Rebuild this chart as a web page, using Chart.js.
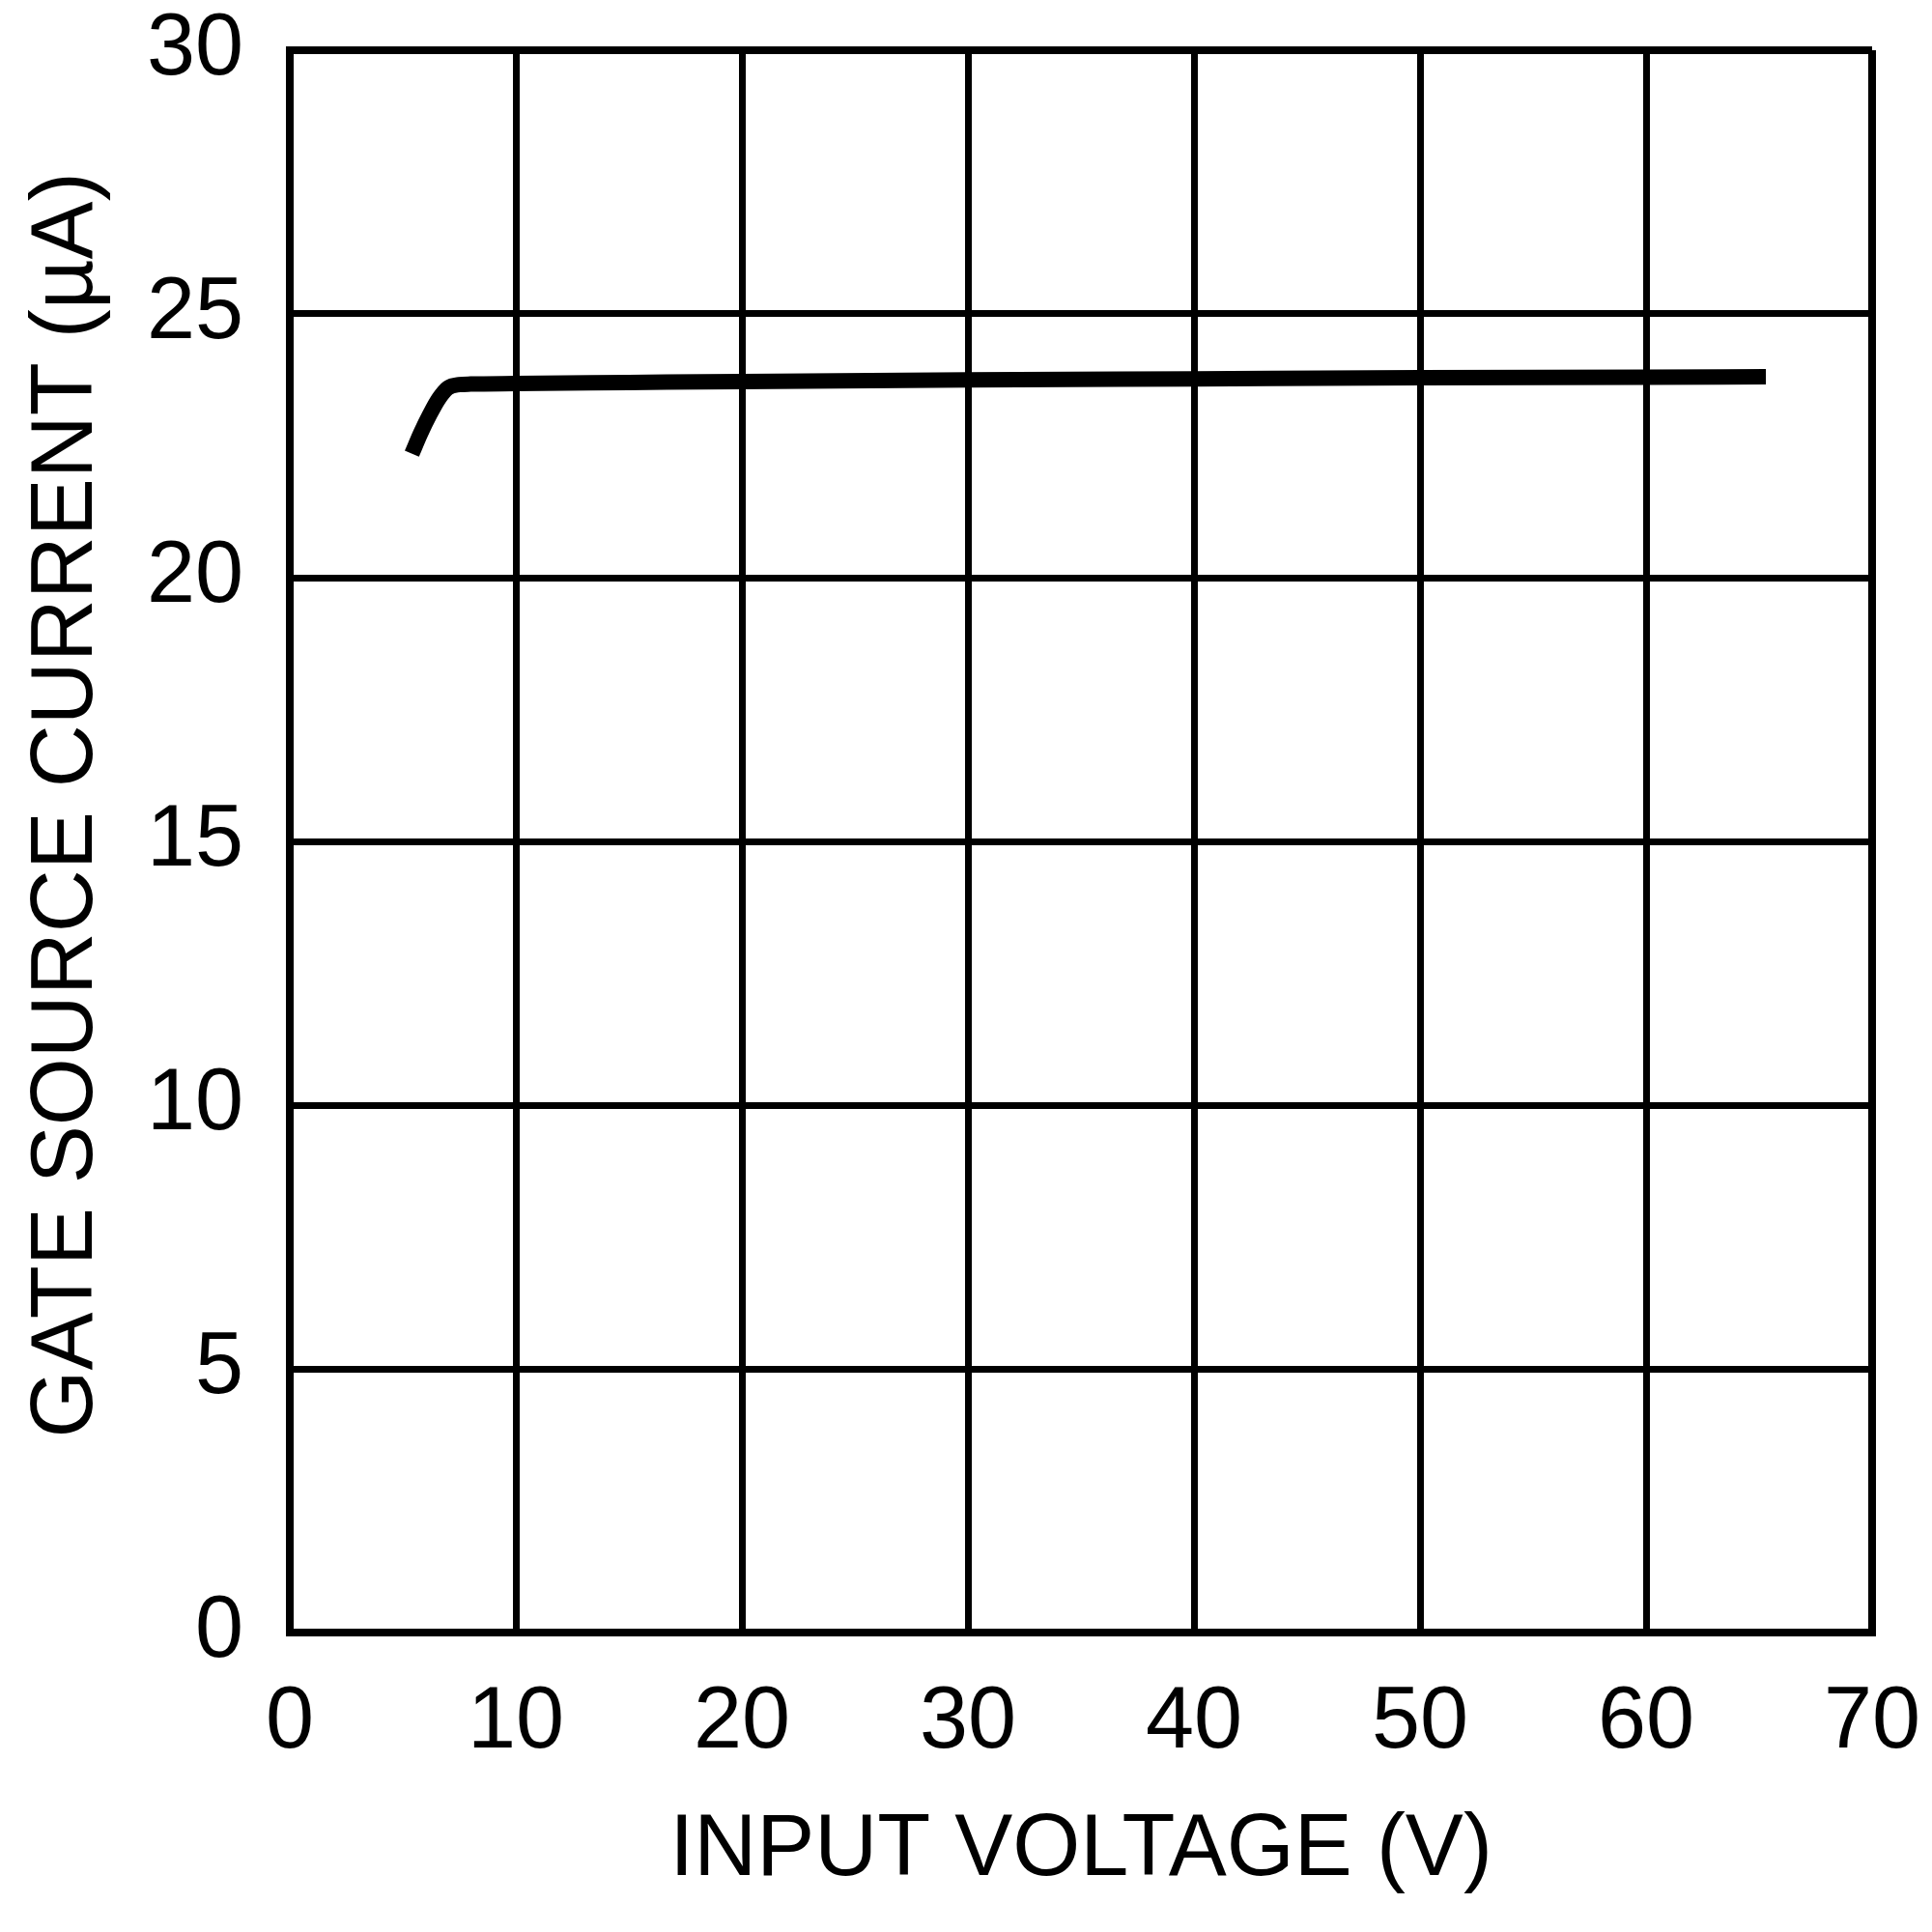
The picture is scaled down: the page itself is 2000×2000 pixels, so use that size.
<!DOCTYPE html>
<html>
<head>
<meta charset="utf-8">
<script src="https://cdn.jsdelivr.net/npm/chart.js@4"></script>
<style>
    html, body { margin: 0; padding: 0; background: #fff; }
    #wrap { width: 2000px; height: 2000px; }
</style>
</head>
<body>
<div id="wrap"><canvas id="chart" width="2000" height="2000"></canvas></div>
<script>
// values
var inputVoltage = [5.4, 5.8, 6.2, 6.6, 7.0, 7.5, 8, 10, 15, 20, 30, 40, 50, 60, 65.3];
var gateCurrent = [22.35, 22.75, 23.1, 23.4, 23.6, 23.66, 23.67, 23.68, 23.7, 23.72, 23.75, 23.77, 23.79, 23.8, 23.81];
var xTicks = [0, 10, 20, 30, 40, 50, 60, 70];
var yTicks = [0, 5, 10, 15, 20, 25, 30];

var points = inputVoltage.map(function (v, i) {
    return { x: v, y: gateCurrent[i] };
});

var fontFamily = '"Liberation Sans", Arial, sans-serif';

var ctx = document.getElementById('chart').getContext('2d');
new Chart(ctx, {
    type: 'line',
    data: {
        datasets: [{
            data: points,
            borderColor: '#000',
            borderWidth: 16,
            pointRadius: 0,
            fill: false,
            cubicInterpolationMode: 'monotone',
            borderCapStyle: 'butt',
            borderJoinStyle: 'round'
        }]
    },
    options: {
        responsive: false,
        animation: false,
        layout: { padding: { top: 52, right: 62, left: 0, bottom: 0 } },
        plugins: { legend: { display: false }, tooltip: { enabled: false } },
        scales: {
            x: {
                type: 'linear',
                min: 0,
                max: 70,
                afterBuildTicks: function (scale) {
                    scale.ticks = xTicks.map(function (v) { return { value: v }; });
                },
                afterFit: function (scale) {
                    scale.height = 310;
                    scale.paddingLeft = 0;
                    scale.paddingRight = 0;
                },
                grid: {
                    color: '#000',
                    lineWidth: function (c) { return (c.tick && c.tick.value === 70) ? 8 : 7; },
                    drawTicks: false
                },
                border: { color: '#000', width: 8 },
                ticks: {
                    color: '#000',
                    padding: 40,
                    maxRotation: 0,
                    font: { family: fontFamily, size: 90 }
                },
                title: {
                    display: true,
                    text: 'INPUT VOLTAGE (V)',
                    color: '#000',
                    font: { family: fontFamily, size: 90 },
                    padding: { top: 0, bottom: 30 }
                }
            },
            y: {
                type: 'linear',
                min: 0,
                max: 30,
                afterBuildTicks: function (scale) {
                    scale.ticks = yTicks.map(function (v) { return { value: v }; });
                },
                afterFit: function (scale) {
                    scale.width = 300;
                    scale.paddingTop = 0;
                    scale.paddingBottom = 0;
                },
                grid: {
                    color: '#000',
                    lineWidth: function (c) { return (c.tick && c.tick.value === 30) ? 8 : 7; },
                    drawTicks: false
                },
                border: { color: '#000', width: 8 },
                ticks: {
                    color: '#000',
                    padding: 48,
                    font: { family: fontFamily, size: 90 }
                },
                title: {
                    display: true,
                    text: '   GATE SOURCE CURRENT (µA)',
                    color: '#000',
                    font: { family: fontFamily, size: 90 },
                    padding: { top: 16, bottom: 0 }
                }
            }
        }
    }
});
</script>
</body>
</html>
